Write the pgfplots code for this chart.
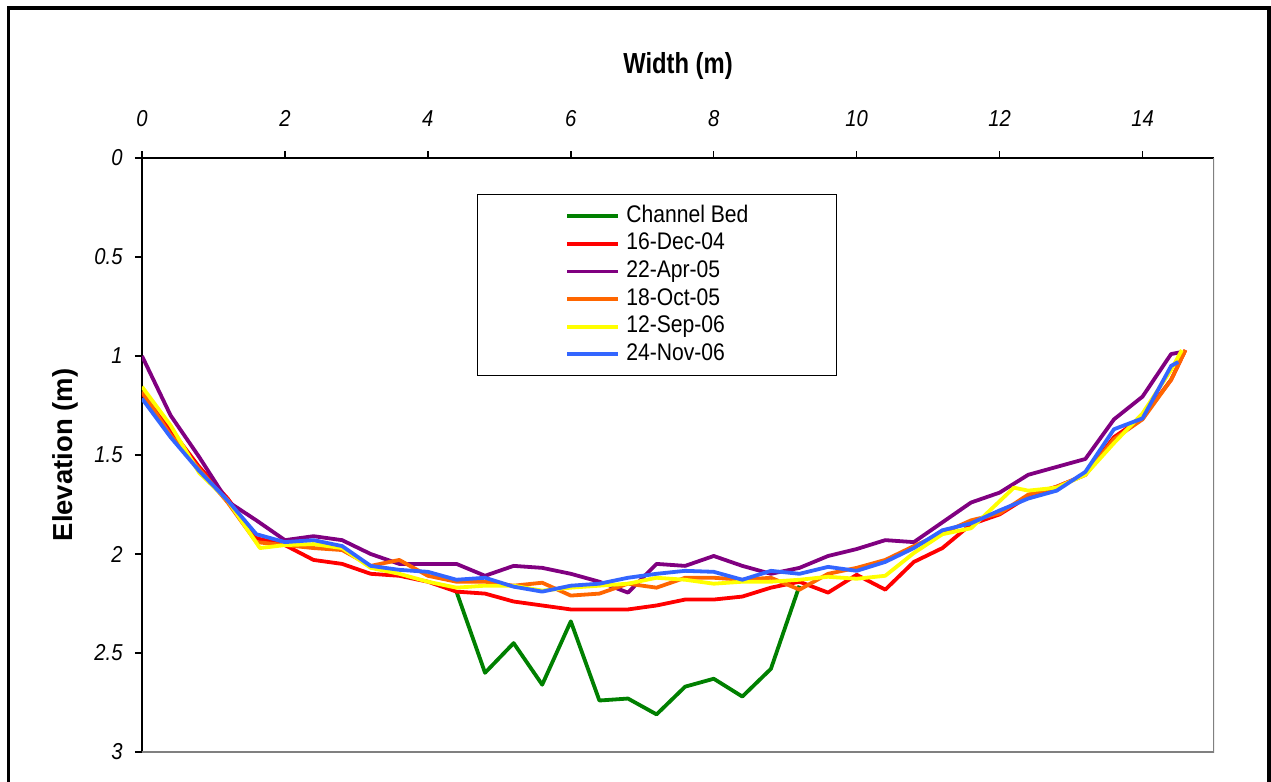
\documentclass[border=0pt]{standalone}
\usepackage{fontspec}
\usepackage{pgfplots}
\pgfplotsset{compat=1.18}
\newfontfamily\tickfont{Liberation Sans}[FakeStretch=0.88]
\newfontfamily\legfont{Liberation Sans}[FakeStretch=0.88]
\newfontfamily\titfont{Liberation Sans}[FakeStretch=0.82]
\newfontfamily\ylabfont{Liberation Sans}
\definecolor{cbed}{RGB}{0,128,0}
\definecolor{cred}{RGB}{255,0,0}
\definecolor{cpur}{RGB}{128,0,128}
\definecolor{corg}{RGB}{255,102,0}
\definecolor{cyel}{RGB}{255,255,0}
\definecolor{cblu}{RGB}{51,102,255}
\begin{document}
\begin{tikzpicture}
\useasboundingbox (0,0) rectangle (635.5pt,391pt);
\draw[line width=1.8pt] (4.3pt,-2pt) -- (4.3pt,387pt) -- (634.6pt,387pt) -- (634.6pt,-2pt);
\begin{axis}[
  at={(71pt,15pt)}, anchor=south west,
  scale only axis, width=536pt, height=297pt,
  xmin=0, xmax=15, ymin=0, ymax=3, y dir=reverse,
  axis x line*=top, axis y line*=left,
  axis line style={black, line width=0.9pt, -},
  xtick={0,2,...,14}, ytick={0,0.5,...,3},
  tick align=outside, major tick length=3.5pt,
  tick style={black, line width=0.7pt},
  /pgf/number format/assume math mode=true,
  ticklabel style={font=\tickfont\itshape\fontsize{11.5}{12}\selectfont},
  xticklabel shift=8.7pt,
  yticklabel shift=2.7pt,
  xlabel={Width (m)},
  ylabel={Elevation (m)},
  every axis x label/.style={at={(axis description cs:0.5,1.1554)}, anchor=center, font=\titfont\bfseries\fontsize{14.5}{16}\selectfont},
  every axis y label/.style={at={(axis description cs:-0.0718,0.5)}, rotate=90, anchor=center, font=\ylabfont\bfseries\fontsize{13.75}{15}\selectfont},
  legend image code/.code={\draw[#1] (0pt,0pt) -- (25.5pt,0pt);},
  legend style={at={(axis description cs:0.3125,0.939)}, anchor=north west,
    draw=black, line width=0.5pt, fill=white,
    font=\legfont\fontsize{12}{13}\selectfont,
    inner xsep=44pt, inner ysep=4.75pt, row sep=1.8pt, column sep=3pt,
    cells={anchor=west},
    nodes={inner sep=0pt, text height=9pt, text depth=3pt}},
  every axis plot/.append style={line width=1.9pt, line join=round, no markers},
]
\addplot[cbed] coordinates {(4.4,2.19)(4.8,2.60)(5.2,2.45)(5.6,2.66)(6.0,2.34)(6.4,2.74)(6.8,2.73)(7.2,2.81)(7.6,2.67)(8.0,2.63)(8.4,2.72)(8.8,2.58)(9.2,2.16)};
\addlegendentry{Channel Bed}
\addplot[cred] coordinates {(0,1.19)(0.4,1.37)(0.8,1.56)(1.2,1.72)(1.6,1.92)(2.0,1.955)(2.4,2.03)(2.8,2.05)(3.2,2.10)(3.6,2.11)(4.0,2.14)(4.4,2.19)(4.8,2.20)(5.2,2.24)(5.6,2.26)(6.0,2.28)(6.4,2.28)(6.8,2.28)(7.2,2.26)(7.6,2.23)(8.0,2.23)(8.4,2.215)(8.8,2.17)(9.2,2.14)(9.6,2.195)(10.0,2.105)(10.4,2.18)(10.8,2.04)(11.2,1.97)(11.6,1.85)(12.0,1.80)(12.4,1.71)(12.8,1.66)(13.2,1.60)(13.6,1.41)(14.0,1.31)(14.4,1.12)(14.6,0.97)};
\addlegendentry{16-Dec-04}
\addplot[cpur] coordinates {(0,1.00)(0.4,1.30)(0.8,1.51)(1.2,1.735)(1.6,1.83)(2.0,1.93)(2.4,1.91)(2.8,1.93)(3.2,2.00)(3.6,2.05)(4.0,2.05)(4.4,2.05)(4.8,2.11)(5.2,2.06)(5.6,2.07)(6.0,2.10)(6.4,2.14)(6.8,2.195)(7.2,2.05)(7.6,2.06)(8.0,2.01)(8.4,2.06)(8.8,2.10)(9.2,2.07)(9.6,2.01)(10.0,1.975)(10.4,1.93)(10.8,1.94)(11.2,1.84)(11.6,1.74)(12.0,1.69)(12.4,1.60)(12.8,1.56)(13.2,1.52)(13.6,1.32)(14.0,1.205)(14.4,0.99)(14.55,0.98)};
\addlegendentry{22-Apr-05}
\addplot[corg] coordinates {(0,1.18)(0.4,1.40)(0.8,1.57)(1.2,1.74)(1.6,1.94)(2.0,1.955)(2.4,1.97)(2.8,1.98)(3.2,2.06)(3.6,2.03)(4.0,2.11)(4.4,2.14)(4.8,2.14)(5.2,2.16)(5.6,2.145)(6.0,2.21)(6.4,2.20)(6.8,2.15)(7.2,2.17)(7.6,2.12)(8.0,2.12)(8.4,2.13)(8.8,2.12)(9.2,2.18)(9.6,2.10)(10.0,2.07)(10.4,2.03)(10.8,1.96)(11.2,1.895)(11.6,1.83)(12.0,1.795)(12.4,1.70)(12.8,1.66)(13.2,1.60)(13.6,1.42)(14.0,1.32)(14.4,1.12)(14.6,0.97)};
\addlegendentry{18-Oct-05}
\addplot[cyel] coordinates {(0,1.155)(0.4,1.35)(0.8,1.59)(1.2,1.73)(1.65,1.97)(2.0,1.955)(2.4,1.95)(2.8,1.97)(3.2,2.07)(3.6,2.10)(4.0,2.14)(4.4,2.17)(4.8,2.16)(5.2,2.16)(5.6,2.185)(6.0,2.17)(6.4,2.16)(6.8,2.15)(7.2,2.12)(7.6,2.13)(8.0,2.15)(8.4,2.14)(8.8,2.14)(9.2,2.13)(9.6,2.115)(10.0,2.125)(10.4,2.11)(10.8,1.995)(11.2,1.90)(11.6,1.87)(12.2,1.665)(12.4,1.68)(12.8,1.665)(13.2,1.60)(13.6,1.44)(14.0,1.29)(14.4,1.07)(14.55,0.97)};
\addlegendentry{12-Sep-06}
\addplot[cblu] coordinates {(0,1.215)(0.4,1.41)(0.8,1.58)(1.2,1.73)(1.6,1.90)(2.0,1.94)(2.4,1.93)(2.8,1.96)(3.2,2.06)(3.6,2.08)(4.0,2.09)(4.4,2.13)(4.8,2.12)(5.2,2.165)(5.6,2.19)(6.0,2.16)(6.4,2.15)(6.8,2.12)(7.2,2.10)(7.6,2.085)(8.0,2.09)(8.4,2.13)(8.8,2.085)(9.2,2.10)(9.6,2.065)(10.0,2.085)(10.4,2.04)(10.8,1.97)(11.2,1.88)(11.6,1.845)(12.0,1.78)(12.4,1.72)(12.8,1.68)(13.2,1.585)(13.6,1.37)(14.0,1.315)(14.4,1.05)(14.5,1.03)};
\addlegendentry{24-Nov-06}
\draw[gray, line width=1pt] (axis description cs:1,1) -- (axis description cs:1,0) -- (axis description cs:0,0);
\end{axis}
\end{tikzpicture}
\end{document}
